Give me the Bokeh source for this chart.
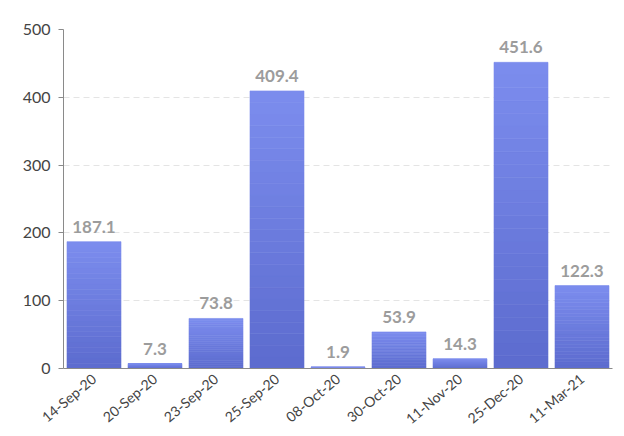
from bokeh.plotting import figure
from bokeh.models import ColumnDataSource, FactorRange, Range1d, LabelSet
from bokeh.core.properties import value
from bokeh.embed import file_html
from bokeh.resources import INLINE

categories = ["14-Sep-20", "20-Sep-20", "23-Sep-20", "25-Sep-20", "08-Oct-20",
              "30-Oct-20", "11-Nov-20", "25-Dec-20", "11-Mar-21"]
values = [187.1, 7.3, 73.8, 409.4, 1.9, 53.9, 14.3, 451.6, 122.3]
y_ticks = [0, 100, 200, 300, 400, 500]

top_rgb = (124, 141, 238)
bot_rgb = (92, 107, 206)
N = 24

p = figure(x_range=FactorRange(*categories, range_padding=0.0),
           y_range=Range1d(0, 500),
           width=616, height=436, output_backend="svg",
           toolbar_location=None, min_border_left=63, min_border_top=29,
           min_border_right=4, min_border_bottom=0)

for k in range(N):
    f0, f1 = k / N, (k + 1) / N
    t = (k + 0.5) / N
    c = tuple(int(round(bot_rgb[i] + (top_rgb[i] - bot_rgb[i]) * t)) for i in range(3))
    col = "#%02x%02x%02x" % c
    src = ColumnDataSource(dict(x=categories,
                                b=[v * f0 for v in values],
                                t=[v * f1 for v in values]))
    p.vbar(x="x", bottom="b", top="t", width=0.885, source=src,
           fill_color=col, line_color=col, line_width=0.6)

lab_src = ColumnDataSource(dict(x=categories, y=values,
                                txt=["%.1f" % v for v in values]))
labels = LabelSet(x="x", y="y", text="txt", source=lab_src,
                  text_align="center", text_baseline="bottom", y_offset=9,
                  text_font=value("Lato"), text_font_style=value("bold"),
                  text_font_size=value("17px"), text_color=value("#9c9c9c"))
p.add_layout(labels)

p.yaxis.ticker = y_ticks
p.yaxis.major_label_text_font = "Lato"
p.yaxis.major_label_text_font_size = "16px"
p.yaxis.major_label_text_color = "#444444"
p.yaxis.axis_line_color = "#8a8a8a"
p.yaxis.major_tick_line_color = "#8a8a8a"
p.yaxis.major_tick_out = 5
p.yaxis.major_tick_in = 0
p.yaxis.minor_tick_line_color = None
p.yaxis.major_label_standoff = 8

p.xaxis.major_label_orientation = 0.7
p.xaxis.major_label_text_font = "Lato"
p.xaxis.major_label_text_font_size = "14px"
p.xaxis.major_label_text_color = "#444444"
p.xaxis.axis_line_color = "#8a8a8a"
p.xaxis.major_tick_line_color = None
p.xaxis.major_label_standoff = 2

p.xgrid.grid_line_color = None
p.ygrid.grid_line_color = "#e4e4e4"
p.ygrid.grid_line_dash = "6 4"
p.outline_line_color = None

open("out.html", "w").write(file_html(p, INLINE))
